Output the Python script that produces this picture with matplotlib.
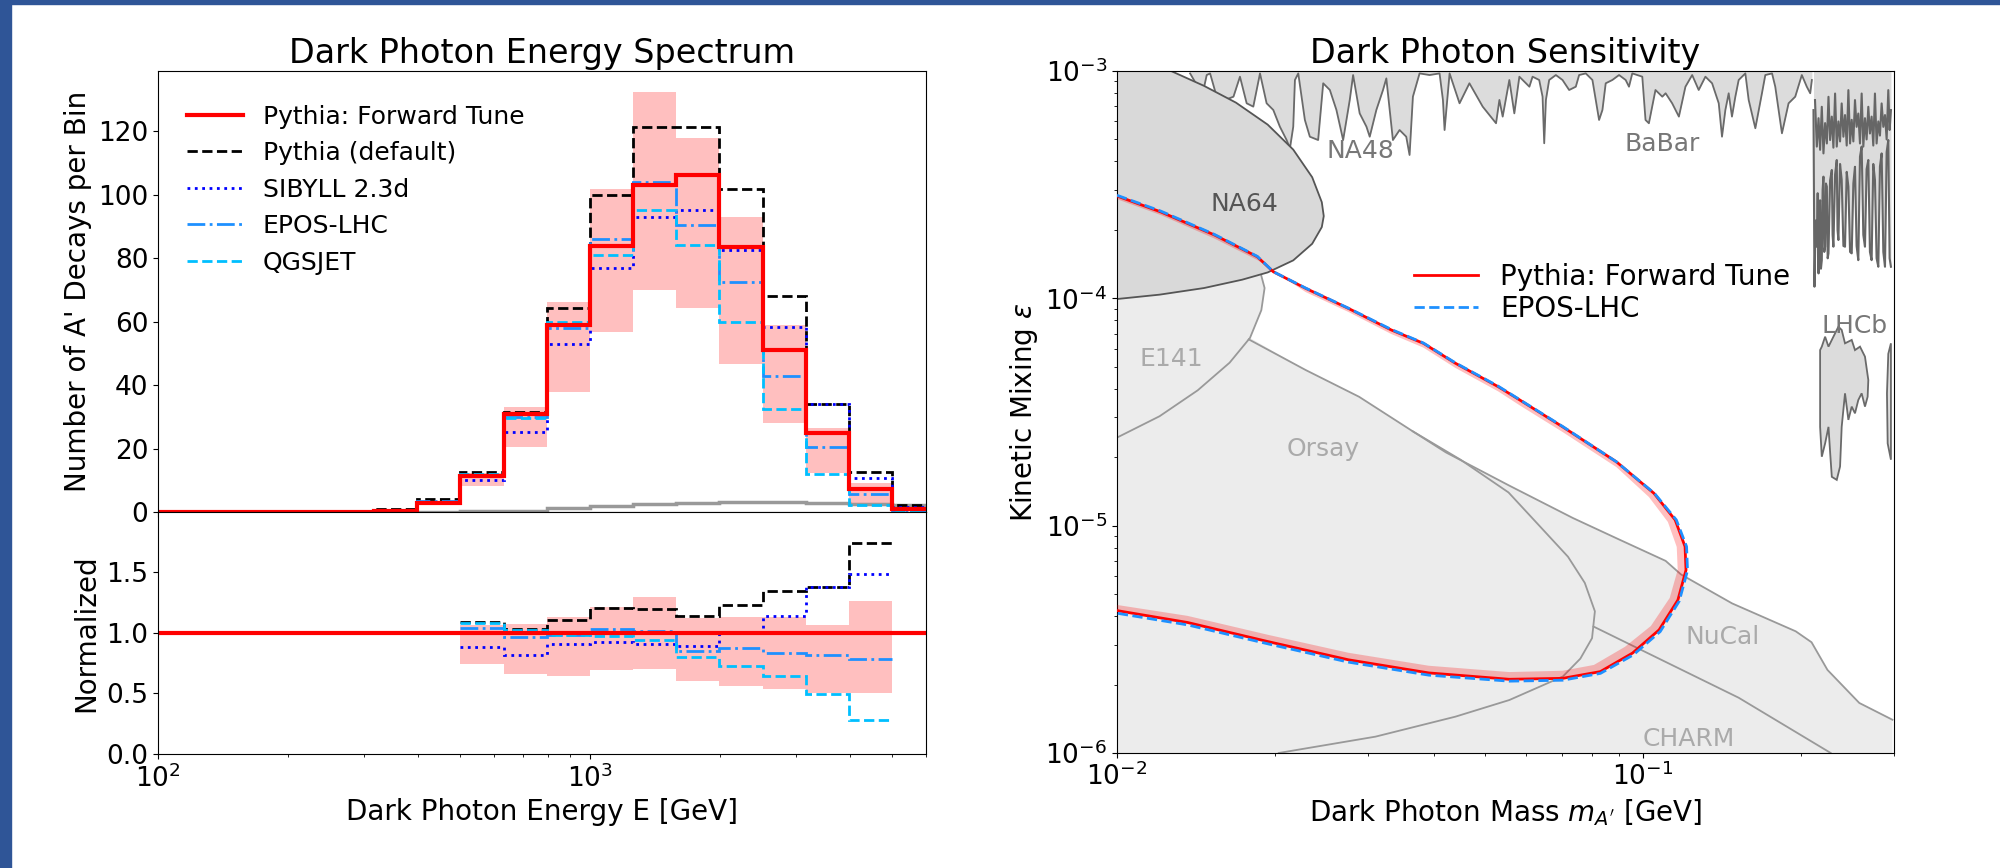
import numpy as np
import matplotlib
matplotlib.use("Agg")
import matplotlib.pyplot as plt
from matplotlib.patches import Rectangle
from matplotlib.lines import Line2D

# ---------------- left panel: energy spectrum ----------------
bin_edges = [100, 126, 158, 200, 251, 316, 398, 501, 631, 794, 1000, 1259,
             1585, 1995, 2512, 3162, 3981, 5012, 6310]
forward_tune = [0, 0, 0, 0, 0.05, 0.5, 3.0, 11.4, 31, 59, 84, 103, 106.4, 83.5, 51.2, 25, 7.2, 1.0]
forward_hi = [0, 0, 0, 0, 0.06, 0.6, 3.3, 12.3, 33, 66.3, 102, 132.4, 118, 93, 59, 26.4, 9.3, 1.3]
forward_lo = [0, 0, 0, 0, 0.04, 0.4, 2.7, 8.1, 20.4, 37.8, 56.9, 70, 64.4, 46.6, 28, 12.3, 2.8, 0.7]
pythia_default = [0, 0, 0, 0, 0.1, 0.9, 4.1, 12.6, 31.7, 64.5, 100, 121.3, 121.3, 102, 68, 34.1, 12.6, 2.3]
sibyll = [0, 0, 0, 0, 0.05, 0.5, 2.8, 10, 25.2, 53.1, 77, 93, 95.2, 82.6, 58.4, 34.1, 10.8, 1.5]
epos = [0, 0, 0, 0, 0.05, 0.5, 3.4, 11.8, 30, 57.9, 86, 104, 90.4, 72.4, 42.9, 20.5, 5.6, 0.5]
qgsjet = [0, 0, 0, 0, 0.05, 0.5, 3.0, 12.0, 29.6, 60, 81.2, 95.2, 84.2, 60, 32.5, 12, 2.1, 0.3]
background = [0, 0, 0, 0, 0, 0.02, 0.05, 0.2, 0.5, 1.2, 2.0, 2.5, 2.9, 3.3, 3.1, 2.8, 2.6, 2.4]

ratio_edges = [501, 631, 794, 1000, 1259, 1585, 1995, 2512, 3162, 3981, 5012]
ratio_default = [1.09, 1.03, 1.105, 1.20, 1.19, 1.14, 1.23, 1.34, 1.375, 1.736]
ratio_sibyll = [0.883, 0.814, 0.905, 0.92, 0.91, 0.89, 1.0, 1.14, 1.375, 1.48]
ratio_epos = [1.035, 0.967, 0.98, 1.03, 1.01, 0.85, 0.87, 0.836, 0.82, 0.78]
ratio_qgsjet = [1.08, 1.02, 0.98, 0.97, 0.94, 0.80, 0.725, 0.64, 0.495, 0.28]
ratio_hi = [1.06, 1.07, 1.13, 1.21, 1.29, 1.12, 1.13, 1.13, 1.06, 1.26]
ratio_lo = [0.74, 0.66, 0.647, 0.69, 0.70, 0.60, 0.56, 0.54, 0.50, 0.50]

# ---------------- right panel: sensitivity ----------------
m_ft = [0.0100, 0.01211, 0.01532, 0.01848, 0.01982, 0.02283, 0.02754, 0.03321, 0.03824, 0.04400,
        0.05311, 0.05832, 0.07036, 0.08899, 0.1049, 0.1151, 0.1202, 0.1207, 0.1165, 0.1073,
        0.09549, 0.08295, 0.07036, 0.05566, 0.03915, 0.02754, 0.01937, 0.01362, 0.0100]
eps_ft = [2.82e-4, 2.40e-4, 1.90e-4, 1.524e-4, 1.309e-4, 1.107e-4, 9.03e-5, 7.26e-5, 6.34e-5, 5.18e-5,
          4.08e-5, 3.57e-5, 2.72e-5, 1.91e-5, 1.388e-5, 1.06e-5, 8.09e-6, 6.38e-6, 4.71e-6, 3.48e-6,
          2.75e-6, 2.28e-6, 2.13e-6, 2.11e-6, 2.25e-6, 2.57e-6, 3.09e-6, 3.75e-6, 4.23e-6]
m_band_in = [0.0100, 0.01211, 0.01532, 0.01848, 0.02283, 0.02754, 0.03321, 0.03824, 0.04400, 0.05311,
             0.05832, 0.07036, 0.08899, 0.1026, 0.1115, 0.1159, 0.1164, 0.1124, 0.1035, 0.09237,
             0.08067, 0.07036, 0.05566, 0.03915, 0.02754, 0.01937, 0.01362, 0.0100]
eps_band_in = [2.73e-4, 2.325e-4, 1.832e-4, 1.474e-4, 1.066e-4, 8.71e-5, 6.97e-5, 6.07e-5, 4.94e-5, 3.89e-5,
               3.38e-5, 2.58e-5, 1.81e-5, 1.337e-5, 1.038e-5, 8.06e-6, 6.39e-6, 4.81e-6, 3.62e-6, 2.93e-6,
               2.44e-6, 2.30e-6, 2.27e-6, 2.42e-6, 2.76e-6, 3.31e-6, 4.01e-6, 4.48e-6]
m_epos = [0.0100, 0.01211, 0.01532, 0.01848, 0.01982, 0.02283, 0.02754, 0.03321, 0.03824, 0.04400,
          0.05311, 0.05832, 0.07036, 0.08899, 0.1052, 0.1157, 0.1210, 0.1215, 0.1172, 0.1078,
          0.0958, 0.0830, 0.07036, 0.05566, 0.03915, 0.02754, 0.01937, 0.01362, 0.0100]
eps_epos = [2.84e-4, 2.42e-4, 1.91e-4, 1.53e-4, 1.31e-4, 1.11e-4, 9.05e-5, 7.3e-5, 6.36e-5, 5.2e-5,
            4.1e-5, 3.58e-5, 2.73e-5, 1.91e-5, 1.385e-5, 1.06e-5, 8.09e-6, 6.35e-6, 4.66e-6, 3.42e-6,
            2.70e-6, 2.24e-6, 2.09e-6, 2.07e-6, 2.20e-6, 2.51e-6, 3.02e-6, 3.66e-6, 4.12e-6]

m_na64 = [0.0100, 0.01205, 0.01464, 0.01730, 0.01934, 0.02163, 0.02350, 0.02451, 0.02472, 0.02451,
          0.02350, 0.02163, 0.01934, 0.01683, 0.01464, 0.01267]
eps_na64 = [9.93e-5, 1.038e-4, 1.11e-4, 1.208e-4, 1.30e-4, 1.469e-4, 1.738e-4, 2.058e-4, 2.30e-4, 2.648e-4,
            3.41e-4, 4.51e-4, 5.81e-4, 7.26e-4, 8.6e-4, 1.0e-3]
m_e141 = [0.0100, 0.01205, 0.01424, 0.01637, 0.01790, 0.01881, 0.01908, 0.01881]
eps_e141 = [2.44e-5, 3.03e-5, 3.94e-5, 5.21e-5, 6.70e-5, 8.87e-5, 1.11e-4, 1.256e-4]
m_orsay = [0.0178, 0.02283, 0.02885, 0.0365, 0.045, 0.0555, 0.0635, 0.0720, 0.0775, 0.0810,
           0.0800, 0.0760, 0.0704, 0.0557, 0.0440, 0.0310, 0.0203]
eps_orsay = [6.6e-5, 4.84e-5, 3.69e-5, 2.6e-5, 1.95e-5, 1.4e-5, 1.0e-5, 7.3e-6, 5.6e-6, 4.2e-6,
             3.2e-6, 2.6e-6, 2.17e-6, 1.71e-6, 1.445e-6, 1.18e-6, 1.0e-6]
m_nucal = [0.0365, 0.0422, 0.0557, 0.0736, 0.0900, 0.1104, 0.1181, 0.1477, 0.1951, 0.2091,
           0.2242, 0.2577, 0.298]
eps_nucal = [2.6e-5, 2.1e-5, 1.5e-5, 1.08e-5, 8.7e-6, 7.0e-6, 6.1e-6, 4.55e-6, 3.43e-6, 3.07e-6,
             2.32e-6, 1.66e-6, 1.4e-6]
m_charm = [0.0805, 0.152, 0.2274]
eps_charm = [3.6e-6, 1.75e-6, 1.0e-6]

m_babar = [0.01377, 0.01418, 0.01460, 0.01481, 0.01503, 0.01547, 0.01605, 0.01665, 0.01713, 0.01764,
           0.01816, 0.01870, 0.01925, 0.01982, 0.02040, 0.02101, 0.02132, 0.02163, 0.02179, 0.02211,
           0.02276, 0.02326, 0.02412, 0.02466, 0.02539, 0.02613, 0.02691, 0.02770, 0.02811, 0.02893,
           0.02980, 0.03023, 0.03112, 0.03204, 0.03251, 0.03346, 0.03445, 0.03547, 0.03599, 0.03652,
           0.03760, 0.03928, 0.04104, 0.04165, 0.04195, 0.04288, 0.04479, 0.04677, 0.04957, 0.05255,
           0.05333, 0.05410, 0.05570, 0.05693, 0.05820, 0.06081, 0.06166, 0.06348, 0.06442, 0.06489,
           0.06537, 0.06631, 0.06828, 0.07030, 0.07237, 0.07451, 0.07560, 0.07783, 0.08013, 0.08131,
           0.08250, 0.08372, 0.08493, 0.08743, 0.09003, 0.09268, 0.09404, 0.09541, 0.09968, 0.1011,
           0.1026, 0.1056, 0.1088, 0.1104, 0.1136, 0.1170, 0.1204, 0.1240, 0.1276, 0.1314,
           0.1353, 0.1393, 0.1413, 0.1434, 0.1455, 0.1476, 0.1498, 0.1520, 0.1565, 0.1588,
           0.1635, 0.1683, 0.1708, 0.1759, 0.1784, 0.1837, 0.1891, 0.1947, 0.2004, 0.2048,
           0.2079, 0.2094]
eps_babar = [9.76e-4, 8.68e-4, 8.25e-4, 9.6e-4, 9.76e-4, 7.71e-4, 7.46e-4, 7.71e-4, 9.44e-4, 7.21e-4,
             6.97e-4, 9.76e-4, 7.21e-4, 6.74e-4, 5.69e-4, 4.97e-4, 4.57e-4, 5.69e-4, 9.13e-4, 9.76e-4,
             6.09e-4, 5.14e-4, 4.97e-4, 8.83e-4, 8.25e-4, 6.74e-4, 4.97e-4, 7.46e-4, 9.6e-4, 6.51e-4,
             5.69e-4, 5.14e-4, 6.74e-4, 8.25e-4, 9.28e-4, 4.97e-4, 5.50e-4, 5.14e-4, 4.27e-4, 7.71e-4,
             9.76e-4, 9.6e-4, 9.76e-4, 7.46e-4, 5.50e-4, 9.76e-4, 7.21e-4, 8.83e-4, 6.97e-4, 5.89e-4,
             7.46e-4, 6.30e-4, 9.13e-4, 6.51e-4, 9.44e-4, 8.53e-4, 9.44e-4, 9.13e-4, 7.71e-4, 4.81e-4,
             7.46e-4, 9.13e-4, 9.6e-4, 9.13e-4, 8.25e-4, 8.53e-4, 9.6e-4, 9.76e-4, 9.13e-4, 7.46e-4,
             6.09e-4, 6.74e-4, 8.83e-4, 9.13e-4, 9.6e-4, 9.13e-4, 8.53e-4, 9.76e-4, 9.44e-4, 6.09e-4,
             5.89e-4, 8.25e-4, 7.71e-4, 7.98e-4, 7.21e-4, 6.30e-4, 8.53e-4, 9.6e-4, 8.25e-4, 9.44e-4,
             8.83e-4, 7.21e-4, 5.14e-4, 6.74e-4, 7.98e-4, 6.30e-4, 7.71e-4, 9.13e-4, 9.76e-4, 7.46e-4,
             5.60e-4, 7.98e-4, 9.6e-4, 9.76e-4, 8.53e-4, 5.32e-4, 7.21e-4, 7.71e-4, 9.6e-4, 8.53e-4,
             7.98e-4, 9.13e-4]

m_lhcb = [0.2109, 0.2118, 0.2129, 0.2140, 0.2148, 0.2156, 0.2163, 0.2171, 0.2179, 0.2187, 0.2195,
          0.2203, 0.2211, 0.2219, 0.2227, 0.2236, 0.2244, 0.2252, 0.2268, 0.2285, 0.2293, 0.2301,
          0.2318, 0.2335, 0.2343, 0.2352, 0.2369, 0.2386, 0.2404, 0.2421, 0.2439, 0.2457, 0.2475,
          0.2493, 0.2511, 0.2529, 0.2547, 0.2566, 0.2585, 0.2604, 0.2623, 0.2642, 0.2661, 0.2681,
          0.2700, 0.2720, 0.2740, 0.2760, 0.2780, 0.2801, 0.2821, 0.2842, 0.2863, 0.2884, 0.2905,
          0.2926, 0.2943, 0.2960]
eps_lhcb = [6.73e-4, 1.125e-4, 2.2e-4, 1.687e-4, 2.9e-4, 1.287e-4, 2.4e-4, 2.70e-4, 1.35e-4, 1.472e-4,
            3.0e-4, 3.43e-4, 1.6e-4, 1.687e-4, 3.2e-4, 3.10e-4, 1.5e-4, 1.577e-4, 3.3e-4, 3.67e-4,
            1.9e-4, 1.687e-4, 3.5e-4, 4.06e-4, 2.0e-4, 1.805e-4, 3.9e-4, 3.32e-4, 1.7e-4, 1.687e-4,
            3.6e-4, 3.10e-4, 1.6e-4, 1.577e-4, 3.2e-4, 3.79e-4, 1.7e-4, 1.472e-4, 4.2e-4, 4.65e-4,
            1.9e-4, 1.687e-4, 3.7e-4, 4.06e-4, 1.6e-4, 1.472e-4, 3.9e-4, 3.32e-4, 1.5e-4, 1.377e-4,
            3.8e-4, 4.34e-4, 1.6e-4, 1.377e-4, 4.4e-4, 4.97e-4, 1.5e-4, 1.377e-4]
m_lhcb_top = [0.2123, 0.2140, 0.2156, 0.2171, 0.2187, 0.2203, 0.2219, 0.2236, 0.2252, 0.2268,
              0.2285, 0.2301, 0.2318, 0.2335, 0.2352, 0.2369, 0.2386, 0.2404, 0.2421, 0.2439,
              0.2457, 0.2475, 0.2493, 0.2511, 0.2529, 0.2547, 0.2566, 0.2585, 0.2604, 0.2623,
              0.2642, 0.2661, 0.2681, 0.2700, 0.2720, 0.2740, 0.2760, 0.2780, 0.2801, 0.2821,
              0.2842, 0.2863, 0.2884, 0.2905, 0.2926, 0.2943, 0.2960]
eps_lhcb_top = [7.45e-4, 4.65e-4, 6.2e-4, 4.5e-4, 6.96e-4, 4.34e-4, 5.9e-4, 4.8e-4, 7.70e-4, 4.97e-4,
                6.3e-4, 4.6e-4, 7.96e-4, 4.65e-4, 6.0e-4, 4.9e-4, 7.20e-4, 5.14e-4, 6.4e-4, 4.7e-4,
                8.24e-4, 4.80e-4, 6.1e-4, 4.9e-4, 7.45e-4, 5.68e-4, 6.5e-4, 4.8e-4, 7.96e-4, 4.65e-4,
                6.2e-4, 5.0e-4, 6.96e-4, 5.31e-4, 6.3e-4, 4.7e-4, 7.96e-4, 4.80e-4, 6.0e-4, 5.2e-4,
                7.20e-4, 5.68e-4, 6.4e-4, 5.0e-4, 8.24e-4, 5.5e-4, 6.73e-4]
m_lhcb_island = [0.2171, 0.2187, 0.2219, 0.2252, 0.2301, 0.2352, 0.2386, 0.2421, 0.2493, 0.2529,
                 0.2585, 0.2642, 0.2681, 0.2673, 0.2642, 0.2604, 0.2566, 0.2529, 0.2493, 0.2457,
                 0.2421, 0.2386, 0.2369, 0.2335, 0.2285, 0.2269, 0.2252, 0.2219, 0.2187, 0.2171]
eps_lhcb_island = [5.92e-5, 6.13e-5, 6.78e-5, 6.13e-5, 6.78e-5, 7.50e-5, 7.26e-5, 6.34e-5, 6.56e-5, 5.92e-5,
                   6.13e-5, 5.54e-5, 4.37e-5, 3.69e-5, 3.34e-5, 3.82e-5, 3.57e-5, 3.12e-5, 3.34e-5, 2.92e-5,
                   3.82e-5, 2.72e-5, 1.82e-5, 1.59e-5, 1.64e-5, 2.08e-5, 2.72e-5, 2.30e-5, 2.01e-5, 2.72e-5]
m_lhcb_sliver = [0.2960, 0.2926, 0.2909, 0.2918, 0.2960]
eps_lhcb_sliver = [6.34e-5, 5.7e-5, 3.82e-5, 2.30e-5, 1.95e-5]

region_labels = ["NA48", "BaBar", "NA64", "LHCb", "E141", "Orsay", "NuCal", "CHARM"]
region_label_m = [0.02897, 0.1087, 0.01746, 0.2528, 0.01268, 0.02464, 0.1416, 0.1222]
region_label_eps = [4.46e-4, 4.77e-4, 2.61e-4, 7.59e-5, 5.42e-5, 2.18e-5, 3.25e-6, 1.15e-6]
region_label_colors = ["#777777", "#777777", "#555555", "#777777", "#aaaaaa", "#aaaaaa", "#aaaaaa", "#aaaaaa"]

# ---------------- figure ----------------
fig = plt.figure(figsize=(20, 8.68), dpi=100)
fig.patches.append(Rectangle((0, 0), 11 / 2000, 1, transform=fig.transFigure, color="#2f5597", zorder=0))
fig.patches.append(Rectangle((0, 1 - 4 / 868), 1, 4 / 868, transform=fig.transFigure, color="#2f5597", zorder=0))

FS_T, FS_L, FS_K = 24, 20, 19

ax1 = fig.add_axes([0.079, 0.410, 0.384, 0.508])
ax2 = fig.add_axes([0.079, 0.131, 0.384, 0.279], sharex=ax1)

ax1.stairs(forward_hi, bin_edges, baseline=forward_lo, fill=True, color="red", alpha=0.25, lw=0)
ax1.stairs(background, bin_edges, baseline=None, color="gray", lw=2.5, alpha=0.8)
ax1.stairs(pythia_default, bin_edges, baseline=None, color="black", ls="--", lw=2)
ax1.stairs(sibyll, bin_edges, baseline=None, color="blue", ls=":", lw=2)
ax1.stairs(epos, bin_edges, baseline=None, color="dodgerblue", ls="-.", lw=2)
ax1.stairs(qgsjet, bin_edges, baseline=None, color="deepskyblue", ls="--", lw=2)
ax1.stairs(forward_tune, bin_edges, baseline=None, color="red", lw=3)
hh = [Line2D([], [], color="red", lw=3), Line2D([], [], color="black", ls="--", lw=2),
      Line2D([], [], color="blue", ls=":", lw=2), Line2D([], [], color="dodgerblue", ls="-.", lw=2),
      Line2D([], [], color="deepskyblue", ls="--", lw=2)]
ax1.legend(hh, ["Pythia: Forward Tune", "Pythia (default)", "SIBYLL 2.3d", "EPOS-LHC", "QGSJET"],
           loc="upper left", bbox_to_anchor=(0.008, 0.975), frameon=False, fontsize=18,
           handlelength=2.25, handletextpad=0.8, labelspacing=0.5)
ax1.set_xscale("log")
ax1.set_xlim(100, 6000)
ax1.set_ylim(0, 139)
ax1.set_yticks([0, 20, 40, 60, 80, 100, 120])
ax1.set_ylabel("Number of A' Decays per Bin", fontsize=FS_L)
ax1.set_title("Dark Photon Energy Spectrum", fontsize=FS_T)
ax1.tick_params(labelsize=FS_K)
ax1.tick_params(axis="x", which="both", labelbottom=False)

ax2.stairs(ratio_hi, ratio_edges, baseline=ratio_lo, fill=True, color="red", alpha=0.25, lw=0)
ax2.stairs(ratio_default, ratio_edges, baseline=None, color="black", ls="--", lw=2)
ax2.stairs(ratio_sibyll, ratio_edges, baseline=None, color="blue", ls=":", lw=2)
ax2.stairs(ratio_epos, ratio_edges, baseline=None, color="dodgerblue", ls="-.", lw=2)
ax2.stairs(ratio_qgsjet, ratio_edges, baseline=None, color="deepskyblue", ls="--", lw=2)
ax2.axhline(1.0, color="red", lw=3)
ax2.set_ylim(0, 1.99)
ax2.set_yticks([0, 0.5, 1.0, 1.5])
ax2.set_ylabel("Normalized", fontsize=FS_L)
ax2.set_xlabel("Dark Photon Energy E [GeV]", fontsize=FS_L)
ax2.tick_params(labelsize=FS_K)

# right panel
ax3 = fig.add_axes([0.5585, 0.1325, 0.3885, 0.7857])
ax3.set_xscale("log")
ax3.set_yscale("log")
light = "#ececec"
edge_l = "#999999"
# union of the light constraint regions (E141, Orsay, NuCal, CHARM)
env_m = m_e141[:5] + m_orsay[1:4] + m_nucal[1:] + [0.298, 0.0100]
env_eps = eps_e141[:5] + eps_orsay[1:4] + eps_nucal[1:] + [1.0e-6, 1.0e-6]
ax3.fill(env_m, env_eps, color=light, lw=0, zorder=1)
ax3.fill(m_e141 + [0.0100], eps_e141 + [1.256e-4], color=light, lw=0, zorder=1)
ax3.plot(m_e141, eps_e141, color=edge_l, lw=1.3, zorder=1.2)
ax3.plot(m_orsay, eps_orsay, color=edge_l, lw=1.3, zorder=1.2)
ax3.plot(m_nucal, eps_nucal, color=edge_l, lw=1.3, zorder=1.2)
ax3.plot(m_charm, eps_charm, color=edge_l, lw=1.3, zorder=1.2)
ax3.fill(m_na64 + [0.0100], eps_na64 + [1.0e-3], facecolor="#d9d9d9", edgecolor="none", zorder=1.5)
ax3.plot(m_na64, eps_na64, color="#555555", lw=1.3, zorder=1.6)
ax3.fill_between(m_babar, eps_babar, 1e-3, color="#dcdcdc", lw=0, zorder=1)
ax3.plot(m_babar, eps_babar, color="#6a6a6a", lw=1.3, zorder=1.2)
ax3.fill_between(m_lhcb, eps_lhcb, 1e-3, color="#dcdcdc", lw=0, zorder=1)
ax3.plot(m_lhcb, eps_lhcb, color="#666666", lw=1.5, zorder=1.2)
ax3.plot(m_lhcb_top, eps_lhcb_top, color="#666666", lw=1.5, zorder=1.2)
ax3.fill(m_lhcb_island, eps_lhcb_island, facecolor="#dcdcdc", edgecolor="#6a6a6a", lw=1.3, zorder=1.2)
ax3.fill(m_lhcb_sliver, eps_lhcb_sliver, facecolor="#dcdcdc", edgecolor="#6a6a6a", lw=1.3, zorder=1.2)

ax3.fill(m_ft + m_band_in[::-1], eps_ft + eps_band_in[::-1], color="red", alpha=0.25, lw=0, zorder=4)
ax3.plot(m_ft, eps_ft, color="red", lw=2, zorder=5, label="Pythia: Forward Tune")
ax3.plot(m_epos, eps_epos, color="dodgerblue", ls="--", lw=2, zorder=6, label="EPOS-LHC")

for txt, mx, ey, c in zip(region_labels, region_label_m, region_label_eps, region_label_colors):
    ax3.text(mx, ey, txt, color=c, fontsize=18, ha="center", va="center", zorder=3)

ax3.set_xlim(0.01, 0.3)
ax3.set_ylim(1e-6, 1e-3)
ax3.set_title("Dark Photon Sensitivity", fontsize=FS_T)
ax3.set_xlabel(r"Dark Photon Mass $m_{A'}$ [GeV]", fontsize=FS_L)
ax3.set_ylabel(r"Kinetic Mixing $\varepsilon$", fontsize=FS_L)
ax3.tick_params(labelsize=FS_K)
ax3.legend(loc="center left", bbox_to_anchor=(0.35, 0.675), frameon=False, fontsize=20,
           handlelength=2.3, labelspacing=0.15)

fig.savefig("out.png", dpi=100)
